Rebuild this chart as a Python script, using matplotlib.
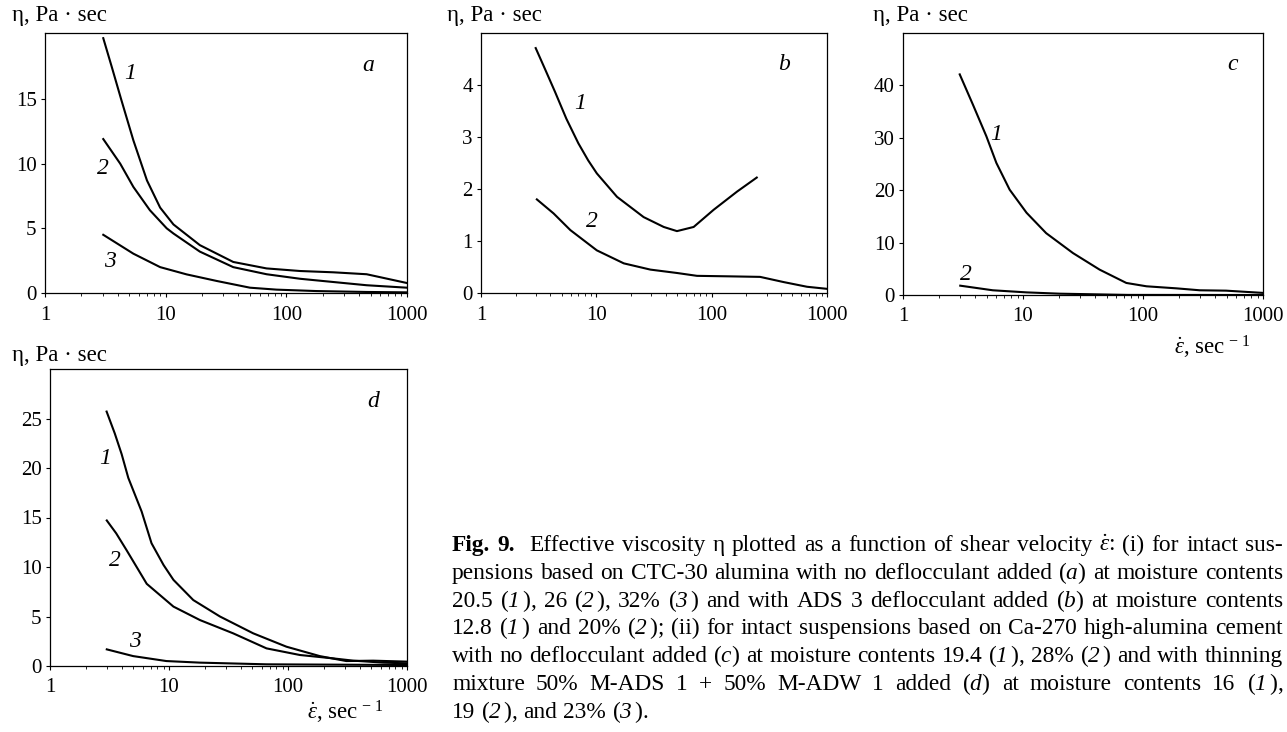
import matplotlib
matplotlib.use('Agg')
import matplotlib.pyplot as plt
from matplotlib.ticker import LogLocator, NullFormatter

plt.rcParams['font.family'] = ['Liberation Serif', 'DejaVu Serif']
plt.rcParams['mathtext.fontset'] = 'custom'
plt.rcParams['mathtext.rm'] = 'Liberation Serif'
plt.rcParams['mathtext.it'] = 'Liberation Serif:italic'
plt.rcParams['mathtext.bf'] = 'Liberation Serif:bold'
# italic alias that also slants digits (used for the curve numbers in the caption)
plt.rcParams['mathtext.sf'] = 'Liberation Serif:italic'

# --- data (shear rate, viscosity) ---
# panel a
a1_x = [3.04, 3.57, 4.3, 5.4, 7.0, 9.0, 11.6, 19.2, 36.3, 68.6, 130, 245, 463, 1000]
a1_y = [19.7, 17.5, 14.9, 11.8, 8.7, 6.6, 5.3, 3.7, 2.4, 1.9, 1.7, 1.6, 1.45, 0.77]
a2_x = [3.04, 4.2, 5.4, 7.4, 10.2, 11.6, 19.2, 36.3, 68.6, 130, 245, 463, 1000]
a2_y = [11.9, 10.0, 8.2, 6.4, 5.0, 4.6, 3.2, 2.0, 1.45, 1.1, 0.85, 0.6, 0.41]
a3_x = [3.04, 5.4, 9.0, 14.9, 26.5, 50, 83, 178, 463, 1000]
a3_y = [4.5, 3.04, 2.0, 1.44, 0.93, 0.41, 0.26, 0.15, 0.08, 0.05]
# panel b
b1_x = [2.98, 3.6, 4.38, 5.5, 6.98, 8.5, 10.1, 15.1, 25.7, 38.4, 50, 69.8, 104, 166, 246]
b1_y = [4.71, 4.3, 3.87, 3.35, 2.88, 2.55, 2.3, 1.85, 1.46, 1.27, 1.19, 1.27, 1.6, 1.95, 2.22]
b2_x = [3.05, 4.26, 5.95, 10.1, 17.3, 29.4, 50, 74.6, 145, 263, 421, 671, 1000]
b2_y = [1.8, 1.53, 1.21, 0.82, 0.57, 0.45, 0.385, 0.33, 0.32, 0.31, 0.21, 0.12, 0.08]
# panel c
c1_x = [2.97, 3.83, 4.95, 6.0, 7.74, 10.7, 15.6, 26.1, 43.5, 72.6, 107, 190, 297, 492, 1000]
c1_y = [42.1, 36.3, 30.3, 25.2, 20.1, 15.7, 11.8, 8.0, 4.84, 2.3, 1.66, 1.27, 0.9, 0.83, 0.4]
c2_x = [3.0, 5.6, 10.7, 20.3, 40, 75, 1000]
c2_y = [1.78, 0.9, 0.5, 0.25, 0.13, 0.02, 0.0]
# panel d
d1_x = [2.99, 3.5, 4.0, 4.55, 5.89, 7.13, 9.0, 10.9, 16, 26.8, 51, 97, 185, 309, 519, 1000]
d1_y = [25.7, 23.5, 21.4, 19.0, 15.6, 12.4, 10.2, 8.7, 6.66, 5.0, 3.3, 1.95, 1.0, 0.5, 0.54, 0.44]
d2_x = [3.0, 3.6, 4.4, 6.5, 10.9, 18.2, 34.6, 66, 126, 239, 354, 633, 1000]
d2_y = [14.7, 13.4, 11.7, 8.3, 6.0, 4.64, 3.3, 1.78, 1.11, 0.77, 0.54, 0.34, 0.27]
d3_x = [3.0, 5.0, 9.5, 18.2, 66, 1000]
d3_y = [1.68, 1.0, 0.5, 0.34, 0.17, 0.1]

x_ticks = [1, 10, 100, 1000]
x_ticklabels = ['1', '10', '100', '1000']

W, H = 1287, 732
fig = plt.figure(figsize=(W / 100, H / 100), dpi=100)


def fx(px):
    return px / W


def fy(py):
    return 1 - py / H


def make_axes(box, ymax, yticks):
    l, r, t, b = box
    ax = fig.add_axes([fx(l), fy(b), (r - l) / W, (b - t) / H])
    ax.set_xscale('log')
    ax.set_xlim(1, 1000)
    ax.set_ylim(0, ymax)
    ax.set_xticks(x_ticks)
    ax.set_xticklabels(x_ticklabels)
    ax.xaxis.set_minor_locator(LogLocator(base=10, subs=range(2, 10)))
    ax.xaxis.set_minor_formatter(NullFormatter())
    ax.set_yticks(yticks)
    ax.tick_params(which='major', direction='out', length=3, width=0.8,
                   labelsize=15, colors='black')
    ax.tick_params(axis='x', which='major', pad=6)
    ax.tick_params(axis='y', which='major', pad=3)
    ax.tick_params(which='minor', direction='out', length=2, width=0.6)
    for s in ax.spines.values():
        s.set_linewidth(0.9)
    return ax


def curve_label(ax, x, y, s):
    ax.text(x, y, s, fontsize=17, fontstyle='italic', ha='center', va='center')


ylab = 'η, Pa · sec'
xlab = r'$\dot{\varepsilon}$, sec$^{\,-\,1}$'

# panel a
ax = make_axes((45, 407, 33, 293), 20.1, [0, 5, 10, 15])
ax.plot(a1_x, a1_y, color='black', lw=1.5)
ax.plot(a2_x, a2_y, color='black', lw=1.5)
ax.plot(a3_x, a3_y, color='black', lw=1.5)
curve_label(ax, 5.06, 17.0, '1')
curve_label(ax, 3.0, 9.6, '2')
curve_label(ax, 3.46, 2.4, '3')
curve_label(ax, 478, 17.6, 'a')
fig.text(fx(12), fy(15), ylab, fontsize=16.5, ha='left', va='center')

# panel b
ax = make_axes((481, 827, 33, 293), 5.0, [0, 1, 2, 3, 4])
ax.plot(b1_x, b1_y, color='black', lw=1.5)
ax.plot(b2_x, b2_y, color='black', lw=1.5)
curve_label(ax, 7.26, 3.65, '1')
curve_label(ax, 9.17, 1.37, '2')
curve_label(ax, 421, 4.39, 'b')
fig.text(fx(447), fy(15), ylab, fontsize=16.5, ha='left', va='center')

# panel c
ax = make_axes((903, 1263, 33, 295), 50, [0, 10, 20, 30, 40])
ax.plot(c1_x, c1_y, color='black', lw=1.5)
ax.plot(c2_x, c2_y, color='black', lw=1.5)
curve_label(ax, 5.92, 30.6, '1')
curve_label(ax, 3.37, 3.9, '2')
curve_label(ax, 562, 44, 'c')
fig.text(fx(873), fy(15), ylab, fontsize=16.5, ha='left', va='center')
fig.text(fx(1250), fy(347), xlab, fontsize=16.5, ha='right', va='center')

# panel d
ax = make_axes((50, 407, 369, 666), 30, [0, 5, 10, 15, 20, 25])
ax.plot(d1_x, d1_y, color='black', lw=1.5)
ax.plot(d2_x, d2_y, color='black', lw=1.5)
ax.plot(d3_x, d3_y, color='black', lw=1.5)
curve_label(ax, 2.9, 21.0, '1')
curve_label(ax, 3.51, 10.7, '2')
curve_label(ax, 5.17, 2.46, '3')
curve_label(ax, 519, 26.7, 'd')
fig.text(fx(12), fy(355), ylab, fontsize=16.5, ha='left', va='center')
fig.text(fx(383), fy(712), xlab, fontsize=16.5, ha='right', va='center')

# caption, justified word by word
caption = [
    r"#Fig. #9. ~ Effective viscosity η plotted as a function of shear velocity $\dot{\varepsilon}$: (i) for intact sus-",
    r"pensions based on CTC-30 alumina with no deflocculant added ($\mathit{a}$) at moisture contents",
    r"20.5 ($\mathsf{1}\,$), 26 ($\mathsf{2}\,$), 32% ($\mathsf{3}\,$) and with ADS 3 deflocculant added ($\mathit{b}$) at moisture contents",
    r"12.8 ($\mathsf{1}\,$) and 20% ($\mathsf{2}\,$); (ii) for intact suspensions based on Ca-270 high-alumina cement",
    r"with no deflocculant added ($\mathit{c}$) at moisture contents 19.4 ($\mathsf{1}\,$), 28% ($\mathsf{2}\,$) and with thinning",
    r"mixture 50% M-ADS 1 + 50% M-ADW 1 added ($\mathit{d}$) at moisture contents 16 ($\mathsf{1}\,$),",
    r"19 ($\mathsf{2}\,$), and 23% ($\mathsf{3}\,$).",
]
cap_size = 16.8
cap_x0, cap_x1 = 452, 1283
cap_base0, cap_step = 551, 27.8

renderer = fig.canvas.get_renderer()
for i, line in enumerate(caption):
    words = line.split(' ')
    items = []
    for w in words:
        if w == '~':
            items.append((None, 0.0))
            continue
        bold = w.startswith('#')
        txt = w[1:] if bold else w
        t = fig.text(0, 0, txt, fontsize=cap_size,
                     fontweight='bold' if bold else 'normal',
                     ha='left', va='baseline')
        width = t.get_window_extent(renderer).width
        items.append((t, width))
    total = sum(w for _, w in items)
    if i < len(caption) - 1:
        gap = (cap_x1 - cap_x0 - total) / (len(items) - 1)
    else:
        gap = 0.25 * cap_size * 100 / 72
    x = cap_x0
    y = fy(cap_base0 + i * cap_step)
    for t, w in items:
        if t is not None:
            t.set_position((fx(x), y))
        x += w + gap

fig.savefig('out.png', dpi=100)
